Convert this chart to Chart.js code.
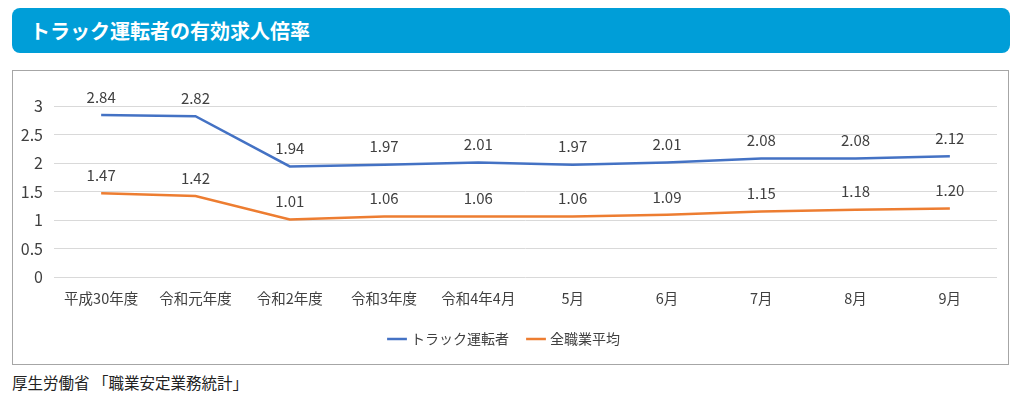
<!DOCTYPE html>
<html>
<head>
<meta charset="utf-8">
<script src="https://cdn.jsdelivr.net/npm/chart.js@4"></script>
<style>
  body{margin:0;background:#fff;font-family:"Noto Sans CJK JP","Noto Sans",sans-serif;width:1024px;height:404px;position:relative;overflow:hidden;}
  .title{position:absolute;left:12px;top:8px;width:998px;height:45px;background:#009ed8;border-radius:8px;color:#fff;font-weight:bold;font-size:20px;line-height:45px;box-sizing:border-box;padding-left:18px;}
  .box{position:absolute;left:12px;top:70px;width:997px;height:295px;border:1px solid #a6a6a6;box-sizing:border-box;}
  .box canvas{display:block;}
  .src{position:absolute;left:12px;top:371px;font-size:15.5px;color:#222;}
</style>
</head>
<body>
<div class="title">トラック運転者の有効求人倍率</div>
<div class="box"><canvas id="c" width="995" height="293"></canvas></div>
<div class="src">厚生労働省 「職業安定業務統計」</div>
<script>
const labels = ['平成30年度','令和元年度','令和2年度','令和3年度','令和4年4月','5月','6月','7月','8月','9月'];
const truckDrivers = [2.84, 2.82, 1.94, 1.97, 2.01, 1.97, 2.01, 2.08, 2.08, 2.12];
const allJobs = [1.47, 1.42, 1.01, 1.06, 1.06, 1.06, 1.09, 1.15, 1.18, 1.20];
const yTicks = [0, 0.5, 1, 1.5, 2, 2.5, 3];

const FONT = '"Noto Sans CJK JP","Noto Sans",sans-serif';

// draw value labels above each point
const valueLabels = {
  id:'valueLabels',
  afterDatasetsDraw(chart){
    const ctx = chart.ctx;
    ctx.save();
    ctx.font = '15px ' + FONT;
    ctx.fillStyle = '#404040';
    ctx.textAlign = 'center';
    ctx.textBaseline = 'middle';
    chart.data.datasets.forEach((ds, i) => {
      chart.getDatasetMeta(i).data.forEach((pt, j) => {
        ctx.fillText(ds.data[j].toFixed(2), pt.x, pt.y - 18);
      });
    });
    ctx.restore();
  }
};

new Chart(document.getElementById('c'), {
  type:'line',
  data:{
    labels:labels,
    datasets:[
      { label:'トラック運転者', data:truckDrivers, borderColor:'#4472c4', backgroundColor:'#4472c4', borderWidth:2.5, pointRadius:0, tension:0 },
      { label:'全職業平均', data:allJobs, borderColor:'#ed7d31', backgroundColor:'#ed7d31', borderWidth:2.5, pointRadius:0, tension:0 }
    ]
  },
  options:{
    responsive:false,
    animation:false,
    layout:{ padding:{ top:35, right:11, bottom:8, left:0 } },
    plugins:{
      legend:{
        position:'bottom',
        labels:{ usePointStyle:true, pointStyle:'line', boxWidth:22, font:{ size:14, family:FONT }, color:'#404040', padding:20 }
      },
      tooltip:{ enabled:false }
    },
    scales:{
      x:{
        offset:true,
        afterFit(s){ s.height = 35; },
        grid:{ display:false, drawTicks:false },
        border:{ display:false },
        ticks:{ font:{ size:14.5, family:FONT }, color:'#404040', padding:13, maxRotation:0 }
      },
      y:{
        min:0, max:3,
        afterFit(s){ s.width = 41; },
        afterBuildTicks(s){ s.ticks = yTicks.map(v => ({ value:v })); },
        grid:{ color:'#d9d9d9', drawTicks:false },
        border:{ display:false },
        ticks:{ font:{ size:16, family:FONT }, color:'#404040', padding:11, callback:v => String(v) }
      }
    }
  },
  plugins:[valueLabels]
});
</script>
</body>
</html>
